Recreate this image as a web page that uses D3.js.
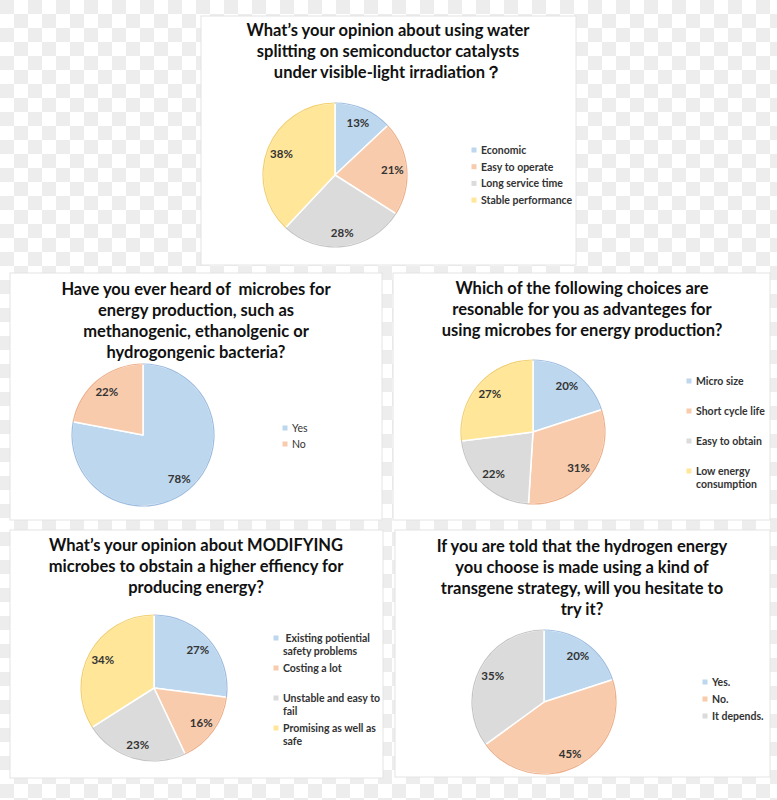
<!DOCTYPE html>
<html>
<head>
<meta charset="utf-8">
<script src="https://cdn.jsdelivr.net/npm/d3@7"></script>
<style>
  body { margin: 0; }
  svg { display: block; }
</style>
</head>
<body>
<svg id="chart"></svg>
<script>
// ---- data ----
const q1Title = ['What\u2019s your opinion about using water', 'splitting on semiconductor catalysts', 'under visible-light irradiation\uFF1F'];
const q1Labels = ['Economic', 'Easy to operate', 'Long service time', 'Stable performance'];
const q1Values = [13, 21, 28, 38];

const q2Title = ['Have you ever heard of  microbes for', 'energy production, such as', 'methanogenic, ethanolgenic or', 'hydrogongenic bacteria?'];
const q2Labels = ['Yes', 'No'];
const q2Values = [78, 22];

const q3Title = ['Which of the following choices are', 'resonable for you as advanteges for', 'using microbes for energy production?'];
const q3Labels = [['Micro size'], ['Short cycle life'], ['Easy to obtain'], ['Low energy', 'consumption']];
const q3Values = [20, 31, 22, 27];

const q4Title = ['What\u2019s your opinion about MODIFYING', 'microbes to obstain a higher effiency for', 'producing energy?'];
const q4Labels = [[' Existing potiential', 'safety problems'], ['Costing a lot'], ['Unstable and easy to', 'fail'], ['Promising as well as', 'safe']];
const q4Values = [27, 16, 23, 34];

const q5Title = ['If you are told that the hydrogen energy', 'you choose is made using a kind of', 'transgene strategy, will you hesitate to', 'try it?'];
const q5Labels = ['Yes.', 'No.', 'It depends.'];
const q5Values = [20, 45, 35];

const sliceColors = ['#bdd7ee', '#f8cbad', '#dbdbdb', '#ffe699'];
const edgeColors = ['#9dbde0', '#eeb08a', '#c4c4c4', '#f2d06e'];

// ---- layout ----
const W = 777, H = 800;
const font = 'Lato, "Open Sans", sans-serif';

const svg = d3.select('#chart').attr('width', W).attr('height', H);

// checkered backdrop
const defs = svg.append('defs');
const pat = defs.append('pattern')
  .attr('id', 'checks')
  .attr('width', 28).attr('height', 28)
  .attr('patternUnits', 'userSpaceOnUse');
pat.append('rect').attr('width', 28).attr('height', 28).attr('fill', '#ffffff');
pat.append('rect').attr('width', 14).attr('height', 14).attr('fill', '#ededed');
pat.append('rect').attr('x', 14).attr('y', 14).attr('width', 14).attr('height', 14).attr('fill', '#ededed');
svg.append('rect').attr('width', W).attr('height', H).attr('fill', 'url(#checks)');

const charts = [
  { title: q1Title, labels: q1Labels, values: q1Values, bold: true,
    box: [201, 16, 375, 249], titleX: 388, titleY: 36, cx: 335, cy: 175, r: 72,
    legX: 474, legY: 150, legStep: 16.7 },
  { title: q2Title, labels: q2Labels, values: q2Values, bold: false,
    box: [10, 273, 372, 247], titleX: 196, titleY: 295, cx: 143, cy: 435, r: 71,
    legX: 285, legY: 428, legStep: 16 },
  { title: q3Title, labels: q3Labels, values: q3Values, bold: true,
    box: [393, 273, 377, 247], titleX: 582, titleY: 294, cx: 533, cy: 432, r: 72,
    legX: 689, legY: 381, legStep: 30 },
  { title: q4Title, labels: q4Labels, values: q4Values, bold: true,
    box: [10, 530, 373, 248], titleX: 196, titleY: 551, cx: 154, cy: 688, r: 73,
    legX: 276, legY: 638, legStep: 30 },
  { title: q5Title, labels: q5Labels, values: q5Values, bold: true,
    box: [395, 530, 375, 247], titleX: 582, titleY: 552, cx: 544, cy: 702, r: 72,
    legX: 705, legY: 682, legStep: 17 }
];

charts.forEach(drawChart);

function drawChart(c) {
  // white panel
  svg.append('rect')
    .attr('x', c.box[0]).attr('y', c.box[1])
    .attr('width', c.box[2]).attr('height', c.box[3])
    .attr('fill', '#ffffff')
    .attr('stroke', '#e4e4e4')
    .attr('stroke-width', 1);

  // title
  const t = svg.append('text')
    .attr('x', c.titleX).attr('y', c.titleY)
    .attr('text-anchor', 'middle')
    .attr('font-family', font)
    .attr('font-weight', 700)
    .attr('font-size', '16.5px')
    .attr('fill', '#111');
  c.title.forEach((line, i) => {
    t.append('tspan')
      .attr('x', c.titleX)
      .attr('dy', i === 0 ? 0 : 21)
      .attr('xml:space', 'preserve')
      .text(line);
  });

  // pie
  const pie = d3.pie().sort(null).value(d => d);
  const arcs = pie(c.values);
  const arc = d3.arc().innerRadius(0).outerRadius(c.r);
  const rim = d3.arc().innerRadius(c.r - 0.6).outerRadius(c.r + 0.6);
  const labelArc = d3.arc().innerRadius(c.r * 0.8).outerRadius(c.r * 0.8);

  const g = svg.append('g').attr('transform', `translate(${c.cx},${c.cy})`);

  g.selectAll('path.slice')
    .data(arcs)
    .join('path')
    .attr('class', 'slice')
    .attr('d', arc)
    .attr('fill', (d, i) => sliceColors[i])
    .attr('stroke', '#ffffff')
    .attr('stroke-width', 1.5)
    .attr('stroke-linejoin', 'round');

  g.selectAll('path.rim')
    .data(arcs)
    .join('path')
    .attr('class', 'rim')
    .attr('d', rim)
    .attr('fill', (d, i) => edgeColors[i]);

  g.selectAll('text.pct')
    .data(arcs)
    .join('text')
    .attr('class', 'pct')
    .attr('transform', d => `translate(${labelArc.centroid(d)})`)
    .attr('text-anchor', 'middle')
    .attr('dominant-baseline', 'central')
    .attr('font-family', font)
    .attr('font-weight', 700)
    .attr('font-size', '11.5px')
    .attr('fill', '#333')
    .text(d => d.data + '%');

  // legend
  const leg = svg.append('g');
  c.labels.forEach((lab, i) => {
    const lines = Array.isArray(lab) ? lab : [lab];
    const y = c.legY + i * c.legStep;
    leg.append('rect')
      .attr('x', c.legX - 2.5).attr('y', y - 2.5)
      .attr('width', 5).attr('height', 5)
      .attr('fill', sliceColors[i]);
    const tx = leg.append('text')
      .attr('x', c.legX + 7).attr('y', y)
      .attr('dominant-baseline', 'central')
      .attr('font-family', font)
      .attr('font-weight', c.bold ? 700 : 400)
      .attr('font-size', '10.5px')
      .attr('fill', '#333');
    lines.forEach((line, j) => {
      tx.append('tspan')
        .attr('x', c.legX + 7)
        .attr('dy', j === 0 ? 0 : 13)
        .attr('xml:space', 'preserve')
        .text(line);
    });
  });
}
</script>
</body>
</html>
